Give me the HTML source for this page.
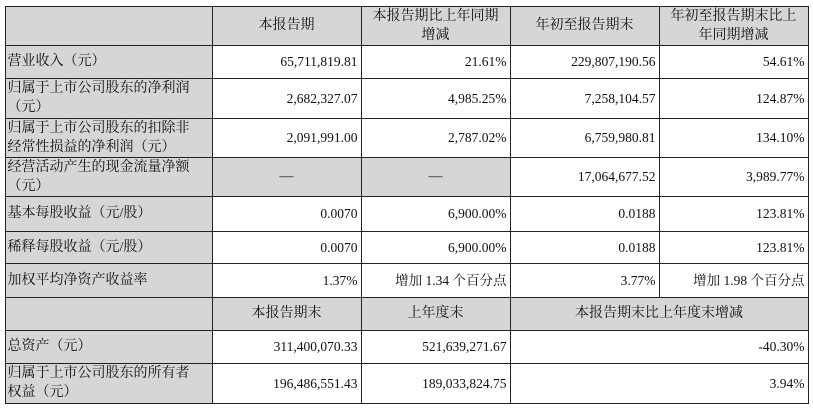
<!DOCTYPE html>
<html><head><meta charset="utf-8"><style>
body{margin:0;width:813px;height:408px;background:#fff;position:relative;overflow:hidden;font-family:"Liberation Serif","Noto Serif CJK SC",serif;font-size:13.5px;color:#111}
.c{position:absolute;box-sizing:border-box;border:1px solid #222;display:flex;align-items:center;line-height:19px;padding:0 3px;margin:-0.5px 0 0 -0.5px}
.g{background:#d6d6d6}
.r{justify-content:flex-end;text-align:right}
.m{justify-content:center;text-align:center;font-size:14px}
.l{justify-content:flex-start;font-size:14px;padding-left:2px}
</style></head><body>
<div class="c g" style="left:5px;top:6px;width:208px;height:40px"></div>
<div class="c g m" style="left:212px;top:6px;width:150px;height:40px">本报告期</div>
<div class="c g m" style="left:361px;top:6px;width:150px;height:40px">本报告期比上年同期<br>增减</div>
<div class="c g m" style="left:510px;top:6px;width:150px;height:40px">年初至报告期末</div>
<div class="c g m" style="left:659px;top:6px;width:150px;height:40px">年初至报告期末比上<br>年同期增减</div>

<div class="c g l" style="left:5px;top:45px;width:208px;height:34px">营业收入（元）</div>
<div class="c r" style="left:212px;top:45px;width:150px;height:34px">65,711,819.81</div>
<div class="c r" style="left:361px;top:45px;width:150px;height:34px">21.61%</div>
<div class="c r" style="left:510px;top:45px;width:150px;height:34px">229,807,190.56</div>
<div class="c r" style="left:659px;top:45px;width:150px;height:34px">54.61%</div>

<div class="c g l" style="left:5px;top:78px;width:208px;height:41px">归属于上市公司股东的净利润<br>（元）</div>
<div class="c r" style="left:212px;top:78px;width:150px;height:41px">2,682,327.07</div>
<div class="c r" style="left:361px;top:78px;width:150px;height:41px">4,985.25%</div>
<div class="c r" style="left:510px;top:78px;width:150px;height:41px">7,258,104.57</div>
<div class="c r" style="left:659px;top:78px;width:150px;height:41px">124.87%</div>

<div class="c g l" style="left:5px;top:118px;width:208px;height:40px">归属于上市公司股东的扣除非<br>经常性损益的净利润（元）</div>
<div class="c r" style="left:212px;top:118px;width:150px;height:40px">2,091,991.00</div>
<div class="c r" style="left:361px;top:118px;width:150px;height:40px">2,787.02%</div>
<div class="c r" style="left:510px;top:118px;width:150px;height:40px">6,759,980.81</div>
<div class="c r" style="left:659px;top:118px;width:150px;height:40px">134.10%</div>

<div class="c g l" style="left:5px;top:157px;width:208px;height:40px">经营活动产生的现金流量净额<br>（元）</div>
<div class="c g m" style="left:212px;top:157px;width:150px;height:40px">—</div>
<div class="c g m" style="left:361px;top:157px;width:150px;height:40px">—</div>
<div class="c r" style="left:510px;top:157px;width:150px;height:40px">17,064,677.52</div>
<div class="c r" style="left:659px;top:157px;width:150px;height:40px">3,989.77%</div>

<div class="c g l" style="left:5px;top:196px;width:208px;height:36px">基本每股收益（元/股）</div>
<div class="c r" style="left:212px;top:196px;width:150px;height:36px">0.0070</div>
<div class="c r" style="left:361px;top:196px;width:150px;height:36px">6,900.00%</div>
<div class="c r" style="left:510px;top:196px;width:150px;height:36px">0.0188</div>
<div class="c r" style="left:659px;top:196px;width:150px;height:36px">123.81%</div>

<div class="c g l" style="left:5px;top:231px;width:208px;height:33px">稀释每股收益（元/股）</div>
<div class="c r" style="left:212px;top:231px;width:150px;height:33px">0.0070</div>
<div class="c r" style="left:361px;top:231px;width:150px;height:33px">6,900.00%</div>
<div class="c r" style="left:510px;top:231px;width:150px;height:33px">0.0188</div>
<div class="c r" style="left:659px;top:231px;width:150px;height:33px">123.81%</div>

<div class="c g l" style="left:5px;top:263px;width:208px;height:35px">加权平均净资产收益率</div>
<div class="c r" style="left:212px;top:263px;width:150px;height:35px">1.37%</div>
<div class="c r" style="left:361px;top:263px;width:150px;height:35px">增加 1.34 个百分点</div>
<div class="c r" style="left:510px;top:263px;width:150px;height:35px">3.77%</div>
<div class="c r" style="left:659px;top:263px;width:150px;height:35px">增加 1.98 个百分点</div>

<div class="c g" style="left:5px;top:297px;width:208px;height:34px"></div>
<div class="c g m" style="left:212px;top:297px;width:150px;height:34px">本报告期末</div>
<div class="c g m" style="left:361px;top:297px;width:150px;height:34px">上年度末</div>
<div class="c g m" style="left:510px;top:297px;width:299px;height:34px">本报告期末比上年度末增减</div>

<div class="c g l" style="left:5px;top:330px;width:208px;height:34px">总资产（元）</div>
<div class="c r" style="left:212px;top:330px;width:150px;height:34px">311,400,070.33</div>
<div class="c r" style="left:361px;top:330px;width:150px;height:34px">521,639,271.67</div>
<div class="c r" style="left:510px;top:330px;width:299px;height:34px">-40.30%</div>

<div class="c g l" style="left:5px;top:363px;width:208px;height:41px">归属于上市公司股东的所有者<br>权益（元）</div>
<div class="c r" style="left:212px;top:363px;width:150px;height:41px">196,486,551.43</div>
<div class="c r" style="left:361px;top:363px;width:150px;height:41px">189,033,824.75</div>
<div class="c r" style="left:510px;top:363px;width:299px;height:41px">3.94%</div>
</body></html>
